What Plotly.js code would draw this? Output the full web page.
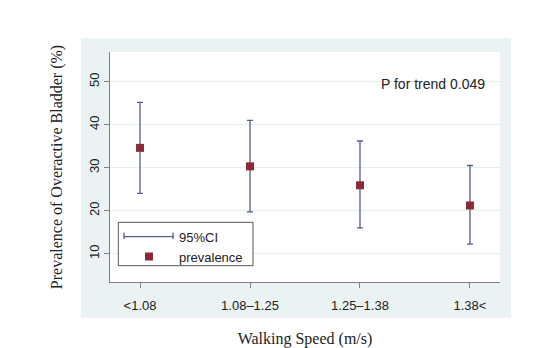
<!DOCTYPE html>
<html>
<head>
<meta charset="utf-8">
<script src="https://cdn.plot.ly/plotly-3.0.1.min.js"></script>
<style>html,body{margin:0;padding:0;background:#fff;}#chart{width:560px;height:348px;}</style>
</head>
<body>
<div id="chart"></div>
<script>
const categories = ['<1.08', '1.08\u20131.25', '1.25\u20131.38', '1.38<'];
const prevalence = [34.6, 30.3, 25.9, 21.2];
const ciLower = [24.0, 19.7, 16.0, 12.2];
const ciUpper = [45.2, 41.0, 36.2, 30.5];
const yTickVals = [10, 20, 30, 40, 50];

const ciColor = '#565d86';
const markerColor = '#8a2a36';

const traces = [
  {
    type: 'scatter', mode: 'markers', x: categories, y: prevalence,
    marker: {size: 1, opacity: 0, color: ciColor},
    error_y: {
      type: 'data', symmetric: false,
      array: prevalence.map((v, i) => ciUpper[i] - v),
      arrayminus: prevalence.map((v, i) => v - ciLower[i]),
      color: ciColor, thickness: 1.3, width: 3
    },
    showlegend: false, hoverinfo: 'skip'
  },
  {
    type: 'scatter', mode: 'lines', x: [null], y: [null], name: '95%CI',
    line: {color: ciColor, width: 1.3}
  },
  {
    type: 'scatter', mode: 'markers', x: categories, y: prevalence, name: 'prevalence',
    marker: {symbol: 'square', size: 8, color: markerColor}
  }
];

const layout = {
  width: 560, height: 348,
  margin: {l: 110, r: 60, t: 52, b: 66, pad: 0},
  paper_bgcolor: '#ffffff',
  plot_bgcolor: 'rgba(0,0,0,0)',
  font: {family: 'Liberation Sans, Arial, sans-serif', size: 13, color: '#222'},
  showlegend: true,
  xaxis: {
    type: 'category', range: [-0.273, 3.273],
    showgrid: false, zeroline: false,
    showline: true, linecolor: '#808080', linewidth: 1,
    ticks: 'outside', ticklen: 5, tickcolor: '#808080', ticklabelstandoff: 6,
    tickfont: {size: 13, color: '#222'},
    title: {text: 'Walking Speed (m/s)', font: {family: 'Liberation Serif, Times New Roman, serif', size: 16, color: '#222'}, standoff: 25},
    automargin: false
  },
  yaxis: {
    range: [3.4, 56.9], tickvals: yTickVals, tickangle: -90,
    showgrid: true, gridcolor: '#e6eff1', gridwidth: 1, zeroline: false,
    showline: true, linecolor: '#808080', linewidth: 1,
    ticks: 'outside', ticklen: 5, tickcolor: '#808080',
    tickfont: {size: 13, color: '#222'},
    title: {text: 'Prevalence of Overactive Bladder (%)', font: {family: 'Liberation Serif, Times New Roman, serif', size: 16, color: '#222'}, standoff: 20},
    automargin: false
  },
  legend: {
    x: 0.023, y: 0.2622, xanchor: 'left', yanchor: 'top',
    bgcolor: 'rgba(0,0,0,0)', borderwidth: 0,
    font: {size: 13, color: '#222'}, itemwidth: 50, tracegroupgap: 0
  },
  shapes: [
    {type: 'rect', xref: 'paper', yref: 'paper', x0: -0.0744, x1: 1.0282, y0: -0.1565, y1: 1.0609,
     fillcolor: '#eaf2f3', line: {width: 0}, layer: 'below'},
    {type: 'rect', xref: 'paper', yref: 'paper', x0: 0, x1: 1, y0: 0, y1: 1,
     fillcolor: '#ffffff', line: {width: 0}, layer: 'below'},
    {type: 'rect', xref: 'paper', yref: 'paper', x0: 0.0213, x1: 0.3667, y0: 0.0709, y1: 0.2596,
     fillcolor: '#ffffff', line: {width: 1, color: '#555555'}, layer: 'above'},
    {type: 'line', xref: 'paper', yref: 'paper', x0: 0.0359, x1: 0.0359, y0: 0.187, y1: 0.2157,
     line: {width: 1.3, color: ciColor}, layer: 'above'},
    {type: 'line', xref: 'paper', yref: 'paper', x0: 0.1615, x1: 0.1615, y0: 0.187, y1: 0.2157,
     line: {width: 1.3, color: ciColor}, layer: 'above'}
  ],
  annotations: [
    {xref: 'paper', yref: 'paper', x: 0.967, y: 0.861, xanchor: 'right', yanchor: 'middle',
     text: 'P for trend 0.049', showarrow: false, font: {size: 14, color: '#222'}}
  ]
};

Plotly.newPlot('chart', traces, layout, {displayModeBar: false, staticPlot: true});
</script>
</body>
</html>
